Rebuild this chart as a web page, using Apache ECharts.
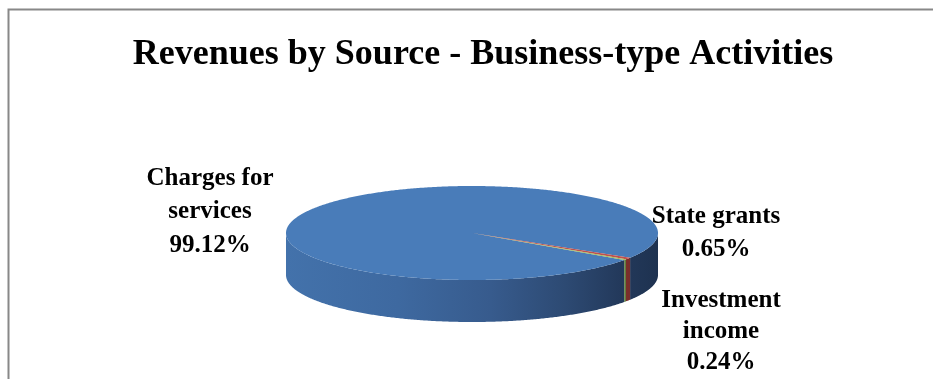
<!DOCTYPE html>
<html><head><meta charset="utf-8">
<script src="https://cdn.jsdelivr.net/npm/echarts@6/dist/echarts.min.js"></script>
<style>html,body{margin:0;padding:0;background:#fff}#c{width:933px;height:379px}</style>
</head><body><div id="c"></div>
<script>
const titleText = 'Revenues by Source - Business-type Activities';
const categories = ['Charges for services', 'State grants', 'Investment income'];
const labelNames = ['Charges for\nservices', 'State grants', 'Investment\nincome'];
const values = [99.12, 0.65, 0.24];

const topColors = ['#497cb9', '#c0504d', '#9bbb59'];
const sideColors = [null, '#7a2e2b', '#5a7835'];
const geom = { cx: 472, cy: 233, a: 186, b: 47, depth: 42, startDeg: 35 };

const total = values.reduce((s, v) => s + v, 0);
const cum = [];
values.reduce((s, v, i) => { cum[i] = s; return s + v; }, 0);

function pt(deg, dy) {
  const r = deg * Math.PI / 180;
  return [geom.cx + geom.a * Math.cos(r), geom.cy + dy + geom.b * Math.sin(r)];
}
const sideGrad = new echarts.graphic.LinearGradient(geom.cx - geom.a, 0, geom.cx + geom.a, 0, [
  { offset: 0, color: '#4372ab' },
  { offset: 0.3, color: '#3e69a0' },
  { offset: 0.55, color: '#375b8d' },
  { offset: 0.75, color: '#2d4a73' },
  { offset: 0.9, color: '#23395b' },
  { offset: 1, color: '#1e3250' }
], true);

function renderItem(params, api) {
  const i = params.dataIndex;
  const s = geom.startDeg + 360 * cum[i] / total;
  const e = s + 360 * api.value(0) / total;
  const children = [];
  [[0, 180], [360, 540]].forEach(([lo, hi]) => {
    const p = Math.max(s, lo), q = Math.min(e, hi);
    if (q > p) {
      const pts = [];
      const n = Math.max(2, Math.ceil((q - p) / 0.5));
      for (let j = 0; j <= n; j++) pts.push(pt(p + (q - p) * j / n, 0));
      for (let j = n; j >= 0; j--) pts.push(pt(p + (q - p) * j / n, geom.depth));
      children.push({ type: 'polygon', shape: { points: pts }, style: { fill: i === 0 ? sideGrad : sideColors[i] } });
    }
  });
  const tp = [[geom.cx, geom.cy]];
  const n = Math.max(2, Math.ceil((e - s) / 0.5));
  for (let j = 0; j <= n; j++) tp.push(pt(s + (e - s) * j / n, 0));
  children.push({ type: 'polygon', shape: { points: tp }, style: { fill: topColors[i] } });
  return { type: 'group', children };
}

const labelFont = 'bold 25px "Liberation Serif", "Times New Roman", serif';
const labelPos = [[210, 212, 33.5], [716, 233, 33], [721, 332, 31]];
const labelEls = labelNames.map((nm, i) => ({
  type: 'text', x: labelPos[i][0], y: labelPos[i][1], silent: true,
  style: { text: nm + '\n' + values[i].toFixed(2) + '%', font: labelFont, lineHeight: labelPos[i][2],
    align: 'center', verticalAlign: 'middle', fill: '#000' }
}));

const chart = echarts.init(document.getElementById('c'), null, { renderer: 'canvas' });
chart.setOption({
  animation: false,
  backgroundColor: '#fff',
  title: {
    text: titleText, left: 478, top: 32, textAlign: 'center',
    textStyle: { fontFamily: '"Liberation Serif", "Times New Roman", serif', fontWeight: 'bold', fontSize: 36, color: '#000' }
  },
  graphic: [
    { type: 'rect', silent: true, shape: { x: 8.5, y: 9.5, width: 1000, height: 1000 },
      style: { fill: 'none', stroke: '#888888', lineWidth: 2 } }
  ].concat(labelEls),
  series: [{
    type: 'custom', coordinateSystem: 'none', silent: true,
    renderItem: renderItem,
    data: values.map((v, i) => ({ name: categories[i], value: [v] }))
  }]
});
</script>
</body></html>
